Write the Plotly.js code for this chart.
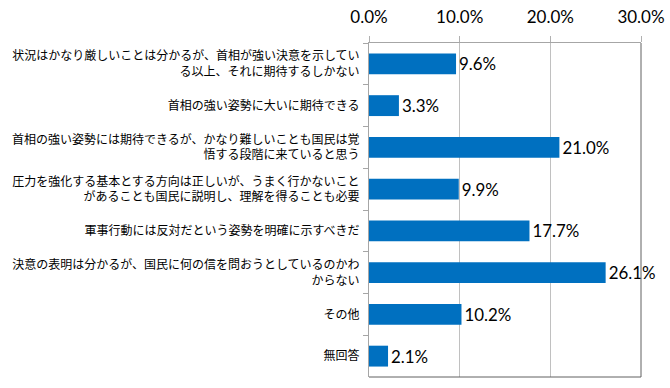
<!DOCTYPE html>
<html>
<head>
<meta charset="utf-8">
<script src="https://cdn.plot.ly/plotly-3.0.1.min.js"></script>
<style>html,body{margin:0;padding:0;background:#fff;}#chart{width:670px;height:388px;}</style>
</head>
<body>
<div id="chart"></div>
<script>
const categories = [
  "状況はかなり厳しいことは分かるが、首相が強い決意を示してい<br>る以上、それに期待するしかない",
  "首相の強い姿勢に大いに期待できる",
  "首相の強い姿勢には期待できるが、かなり難しいことも国民は覚<br>悟する段階に来ていると思う",
  "圧力を強化する基本とする方向は正しいが、うまく行かないこと<br>があることも国民に説明し、理解を得ることも必要",
  "軍事行動には反対だという姿勢を明確に示すべきだ",
  "決意の表明は分かるが、国民に何の信を問おうとしているのかわ<br>からない",
  "その他",
  "無回答"
];
const values = [9.6, 3.3, 21.0, 9.9, 17.7, 26.1, 10.2, 2.1];
const tickValues = [0, 10, 20, 30];
const tickLabels = ["0.0%", "10.0%", "20.0%", "30.0%"];

const trace = {
  type: 'bar',
  orientation: 'h',
  x: values,
  y: categories,
  marker: {color: '#0070C0'},
  text: values.map(v => v.toFixed(1) + '%'),
  textposition: 'outside',
  cliponaxis: false,
  textfont: {family: 'Lato, "Noto Sans", sans-serif', size: 17, color: '#000'},
  hoverinfo: 'none'
};

const layout = {
  width: 670, height: 388,
  margin: {l: 369, r: 29, t: 43, b: 11},
  paper_bgcolor: '#fff', plot_bgcolor: '#fff',
  showlegend: false,
  bargap: 0.5,
  xaxis: {
    side: 'top',
    range: [0, 30],
    tickvals: tickValues,
    ticktext: tickLabels,
    ticks: 'outside', ticklen: 6, tickcolor: '#b0b0b0',
    ticklabelstandoff: 6,
    showgrid: true, gridcolor: '#c0c0c0', gridwidth: 1,
    showline: true, linecolor: '#a6a6a6', linewidth: 1,
    zeroline: false,
    tickfont: {family: 'Lato, "Noto Sans", sans-serif', size: 17, color: '#000'}
  },
  yaxis: {
    type: 'category',
    autorange: 'reversed',
    tickson: 'boundaries',
    ticks: 'outside', ticklen: 5, tickcolor: '#a6a6a6',
    ticklabelstandoff: 6,
    showline: true, linecolor: '#a6a6a6', linewidth: 1,
    showgrid: false, zeroline: false,
    tickfont: {family: '"Noto Sans CJK JP", sans-serif', size: 12, color: '#000'}
  },
  shapes: [
    {type: 'line', xref: 'paper', yref: 'paper', x0: 1, x1: 1, y0: 0, y1: 1, line: {color: '#606060', width: 1}},
    {type: 'line', xref: 'paper', yref: 'paper', x0: 0, x1: 1, y0: 0, y1: 0, line: {color: '#606060', width: 1}}
  ]
};

Plotly.newPlot('chart', [trace], layout, {displayModeBar: false, staticPlot: true});
</script>
</body>
</html>
